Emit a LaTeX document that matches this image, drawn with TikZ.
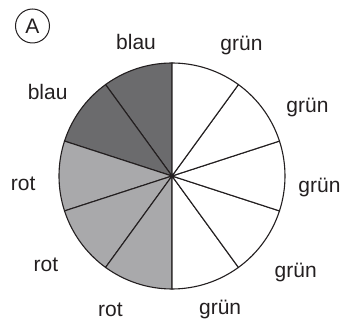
\documentclass[tikz,border=0pt]{standalone}
\usepackage{fontspec}
\setmainfont{Liberation Sans}
\definecolor{blaugrau}{RGB}{107,107,109}
\definecolor{rotgrau}{RGB}{169,169,171}
\definecolor{strich}{RGB}{35,31,32}
\usetikzlibrary{positioning}

\begin{document}
\begin{tikzpicture}[x=1pt, y=1pt, line width=1.1pt,
  farbe/.style={font=\fontsize{21}{25}\selectfont, text=strich, inner sep=1pt}]
  \useasboundingbox (-172,-145) rectangle (177,176);
  \coordinate (m) at (0,0);
  % ten equal sectors, counterclockwise from the top
  \foreach \start/\ton in {90/blaugrau, 126/blaugrau, 162/rotgrau, 198/rotgrau, 234/rotgrau,
                           270/white, 306/white, 342/white, 18/white, 54/white} {
    \filldraw[draw=strich, fill=\ton] (m) -- ++(\start:113)
      arc[start angle=\start, delta angle=36, radius=113] -- cycle;
  }
  \fill[strich] (m) circle (1.2);
  % colour names round the wheel
  \node[farbe] (b1) at (105:139) {blau};
  \node[farbe] (b2) at (146:150) {blau};
  \node[farbe] (r1) at (183:149) {rot};
  \node[farbe] (r2) at (215:154) {rot};
  \node[farbe] (r3) at (245.2:147) {rot};
  \node[farbe] (g1) at (289.8:142) {grün};
  \node[farbe] (g2) at (322:157) {grün};
  \node[farbe] (g3) at (355.4:148) {grün};
  \node[farbe] (g4) at (27:152) {grün};
  \node[farbe] (g5) at (62:148) {grün};
  % task letter
  \node[farbe, draw=strich, line width=1pt, circle, minimum size=34pt, inner sep=0pt] (a) at (-139.5,150) {A};
\end{tikzpicture}
\end{document}
